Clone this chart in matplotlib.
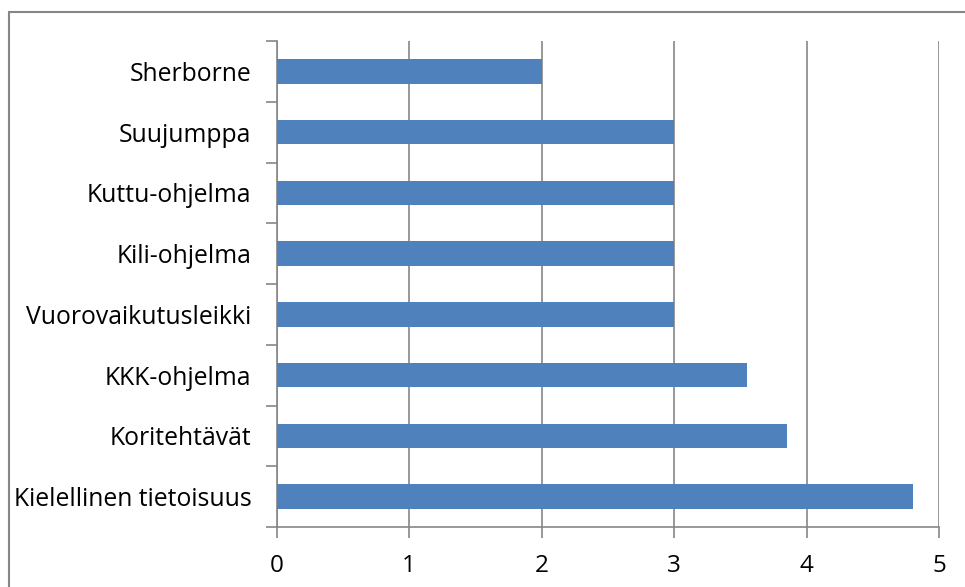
import numpy as np
import matplotlib.pyplot as plt
from matplotlib.patches import Rectangle

kategoriat = ["Kielellinen tietoisuus", "Koritehtävät", "KKK-ohjelma", "Vuorovaikutusleikki",
              "Kili-ohjelma", "Kuttu-ohjelma", "Suujumppa", "Sherborne"]
arvot = [4.8, 3.85, 3.55, 3.0, 3.0, 3.0, 3.0, 2.0]
xtikit = [0, 1, 2, 3, 4, 5]

plt.rcParams['font.family'] = ['Open Sans', 'DejaVu Sans']

fig = plt.figure(figsize=(9.65, 5.87), dpi=100)
ax = fig.add_axes([276.5/965, 1-527/587, (939-276.5)/965, (527-41)/587])

y = np.arange(len(kategoriat))
ax.barh(y, arvot, height=0.4, color="#4f81bd", zorder=3)

ax.set_xlim(0, 5)
ax.set_ylim(-0.5, len(kategoriat)-0.5)
ax.set_xticks(xtikit)
ax.set_xticklabels([str(t) for t in xtikit], fontsize=17.5)
ax.set_yticks(y)
ax.set_yticklabels(kategoriat, fontsize=17.8)
ax.set_yticks(np.arange(len(kategoriat)+1)-0.5, minor=True)
ax.tick_params(axis='y', which='major', length=0, pad=18)
ax.tick_params(axis='y', which='minor', length=8, color="#868686", width=1.2, direction='out')
ax.tick_params(axis='x', length=8, color="#868686", width=1.2, direction='out', pad=11.5)
ax.grid(axis='x', color="#868686", linewidth=1.2, zorder=0)

for s in ['top', 'right']:
    ax.spines[s].set_visible(False)
for s in ['left', 'bottom']:
    ax.spines[s].set_color("#868686")
    ax.spines[s].set_linewidth(1.2)

# kaavion reunus
fig.patches.append(Rectangle((9/965, -0.05), 1.0, 1-12/587+0.05, transform=fig.transFigure,
                             fill=False, edgecolor="#868686", linewidth=1.5))

fig.savefig("out.png", dpi=100)
